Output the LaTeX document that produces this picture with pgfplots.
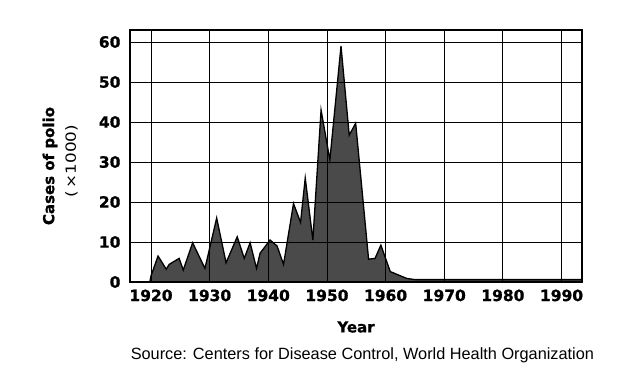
\documentclass[border=0pt]{standalone}
\usepackage{fontspec}
\usepackage{pgfplots}
\pgfplotsset{compat=1.18}
\newfontfamily\dejavu{DejaVu Sans}
\newfontfamily\heavy{DejaVu Sans}[BoldFeatures={FakeBold=1}]
\newfontfamily\dejavuwide{DejaVu Sans}[FakeStretch=1.2]
\newfontfamily\libsans{Liberation Sans}
\definecolor{fillgray}{HTML}{4A4A4A}
\begin{document}
\begin{tikzpicture}[x=1pt,y=1pt]
\path[use as bounding box] (0,0) rectangle (627,378);
\begin{axis}[
  at={(130pt,96pt)}, anchor=south west,
  width=451.7pt, height=252pt, scale only axis,
  xmin=1916.42, xmax=1993.44, ymin=0, ymax=63,
  xtick={1920,1930,...,1990}, ytick={0,10,...,60},
  major tick length=0pt,
  grid=major, grid style={black, line width=0.8pt},
  axis line style={black, line width=1.6pt},
  axis on top,
  /pgf/number format/assume math mode=true,
  xticklabel={\pgfmathprintnumber[1000 sep={}]{\tick}},
  ticklabel style={font=\heavy\bfseries\fontsize{15.5}{18}\selectfont},
  yticklabel style={xshift=-6pt},
  xticklabel style={yshift=-4pt},
]
\addplot[draw=black, line width=1.3pt, fill=fillgray] coordinates {
(1919.8,0) (1920.0,1.5) (1921.2,6.5) (1922.6,3.2) (1923.1,4.4) (1924.8,5.9)
(1925.5,3.0) (1927.1,9.8) (1929.2,3.4) (1931.2,16) (1932.8,4.8)
(1934.7,11.3) (1935.9,5.9) (1936.9,9.8) (1938.0,3.4) (1938.6,7.2)
(1940.3,10.5) (1941.5,9.0) (1942.6,4.4) (1944.3,19.6) (1945.5,14.9)
(1946.3,26) (1947.6,10.5) (1949.0,43) (1950.5,30.5) (1952.4,59)
(1953.8,36.7) (1954.9,39.7) (1957.1,5.7) (1958.2,5.9) (1959.2,9.2)
(1960.8,2.6) (1963.6,0.9) (1965.0,0.6) (1993.44,0.6)
} \closedcycle;
\end{axis}
\node[rotate=90, font=\heavy\bfseries\fontsize{15}{18}\selectfont] at (50,212) {Cases of polio};
\node[rotate=90, font=\dejavuwide\fontsize{14}{17}\selectfont] at (71.5,217) {(\,×1000)};
\node[font=\heavy\bfseries\fontsize{15}{17}\selectfont] at (356,51) {Year};
\node[font=\libsans\fontsize{16.3}{19}\selectfont] at (362.4,23) {Source: Centers for Disease Control, World Health Organization};
\end{tikzpicture}
\end{document}
